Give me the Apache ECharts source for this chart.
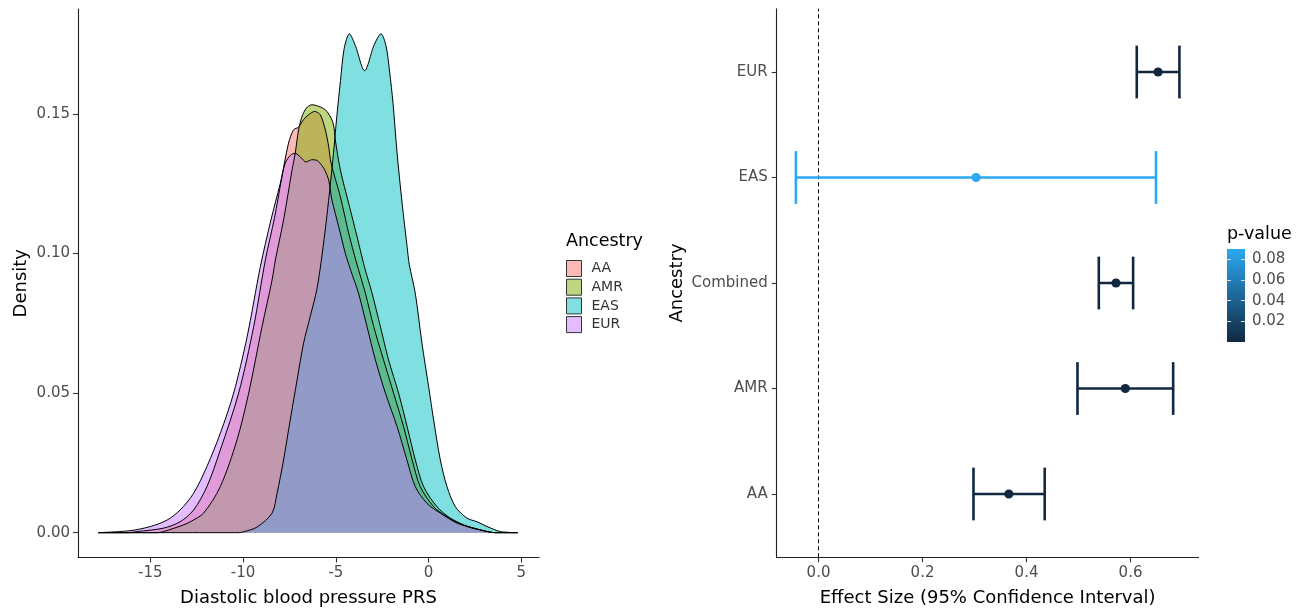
<!DOCTYPE html>
<html><head><meta charset="utf-8">
<script src="https://cdn.jsdelivr.net/npm/echarts@6/dist/echarts.min.js"></script>
<style>html,body{margin:0;padding:0;background:#fff}#c{width:1303px;height:614px}</style>
</head><body><div id="c"></div>
<script>
// ---------- Left panel: density of Diastolic blood pressure PRS ----------
const groups = ['AA', 'AMR', 'EAS', 'EUR'];
const fills = ['#F8766D', '#7CAE00', '#00BFC4', '#C77CFF'];

const densAA = [[-17.8,0],[-16.2,0],[-15.7,0.0004],[-14.3,0.0016],[-13.4,0.0039],[-12.67,0.0081],[-11.95,0.0165],[-11.23,0.0296],[-10.24,0.05],[-9.43,0.0738],[-8.8,0.0977],[-8.3,0.113],[-7.95,0.126],[-7.55,0.1396],[-7.28,0.1443],[-7.01,0.1453],[-6.74,0.148],[-6.47,0.1497],[-6.15,0.1509],[-5.84,0.1497],[-5.57,0.1443],[-5.39,0.1384],[-5.26,0.1324],[-4.76,0.1204],[-4.31,0.1073],[-3.9,0.097],[-3.41,0.0858],[-2.96,0.0738],[-2.43,0.0619],[-1.89,0.05],[-1.35,0.038],[-0.89,0.0261],[-0.45,0.0165],[0.27,0.0093],[0.99,0.0057],[1.89,0.0028],[2.79,0.001],[3.5,0],[4.8,0]];

const densAMR = [[-17.8,0],[-14.6,0],[-14.28,0.0004],[-13.2,0.0028],[-12.85,0.0039],[-12.13,0.007],[-11.23,0.0165],[-10.33,0.0332],[-9.7,0.05],[-8.98,0.0738],[-8.44,0.0905],[-8.26,0.0977],[-7.82,0.112],[-7.36,0.13],[-7.19,0.136],[-7.01,0.1443],[-6.83,0.149],[-6.59,0.1521],[-6.29,0.1533],[-5.84,0.1525],[-5.48,0.1509],[-5.15,0.1467],[-5.03,0.1407],[-4.76,0.13],[-4.31,0.118],[-3.86,0.1061],[-3.45,0.095],[-3.05,0.0858],[-2.6,0.0738],[-2.16,0.0619],[-1.62,0.05],[-1.16,0.038],[-0.72,0.0261],[-0.27,0.0165],[0.45,0.0093],[1.17,0.0052],[2.07,0.0022],[2.97,0.0007],[3.6,0],[4.8,0]];

const densEAS = [[-17.8,0],[-10.2,0],[-9.97,0.0003],[-9.25,0.002],[-8.44,0.007],[-8.17,0.0141],[-7.82,0.026],[-7.46,0.0404],[-7.09,0.0547],[-6.74,0.0679],[-6.38,0.0775],[-6.0,0.088],[-5.6,0.107],[-5.2,0.131],[-4.95,0.149],[-4.75,0.162],[-4.55,0.1735],[-4.27,0.1787],[-3.95,0.1745],[-3.45,0.1655],[-2.95,0.1745],[-2.57,0.1787],[-2.3,0.1745],[-2.1,0.165],[-1.92,0.1539],[-1.7,0.136],[-1.43,0.1181],[-1.16,0.1025],[-1.04,0.096],[-0.72,0.0858],[-0.36,0.0679],[0,0.0523],[0.27,0.0404],[0.63,0.0261],[0.99,0.0165],[1.44,0.0093],[2.07,0.0052],[2.61,0.0039],[3.15,0.0022],[3.87,0.0004],[4.8,0]];

const densEUR = [[-17.8,0],[-16.1,0.0007],[-15,0.0022],[-14.1,0.0045],[-13.4,0.0081],[-12.67,0.0141],[-11.95,0.0237],[-11.23,0.0356],[-10.51,0.05],[-9.79,0.07],[-9.07,0.0953],[-8.5,0.112],[-8.0,0.125],[-7.73,0.1324],[-7.45,0.1352],[-7.19,0.1359],[-6.9,0.1345],[-6.6,0.1328],[-6.3,0.1336],[-6.0,0.1333],[-5.75,0.1315],[-5.57,0.1295],[-5.39,0.1264],[-5.21,0.1192],[-4.85,0.1097],[-4.49,0.1001],[-4.2,0.094],[-3.78,0.0858],[-3.32,0.0738],[-2.87,0.0619],[-2.33,0.05],[-1.7,0.038],[-1.17,0.0261],[-0.72,0.0165],[-0.09,0.0105],[0.63,0.007],[1.53,0.0034],[2.43,0.0016],[3.15,0.0004],[3.6,0],[4.8,0]];

const prsTicks = [-15, -10, -5, 0, 5];
const densityTicks = [0, 0.05, 0.10, 0.15];

// ---------- Right panel: effect sizes ----------
const forestCats = ['AA', 'AMR', 'Combined', 'EAS', 'EUR'];
const estimate = [0.366, 0.590, 0.572, 0.303, 0.653];
const lower    = [0.298, 0.498, 0.539, -0.0435, 0.612];
const upper    = [0.435, 0.682, 0.605, 0.649, 0.694];
const pValue   = [0.0004, 0.0003, 0.00001, 0.09, 0.00001];
const zeroRef = 0;
const effectTicks = [0, 0.2, 0.4, 0.6];
const pTicks = [0.02, 0.04, 0.06, 0.08];

const FONT = 'DejaVu Sans';
const LOW = '#10283F', HIGH = '#2BA9F2';
function hexA(h, a) {
  const n = parseInt(h.slice(1), 16);
  return 'rgba(' + (n >> 16 & 255) + ',' + (n >> 8 & 255) + ',' + (n & 255) + ',' + a + ')';
}
const axisLineStyle = { onZero: false, lineStyle: { color: '#222', width: 1.1 } };
const tickStyle = { length: 5, lineStyle: { color: '#333', width: 1.1 } };
const lblStyle = { color: '#4D4D4D', fontSize: 15, fontFamily: FONT };
const nameStyle = { color: '#000', fontSize: 18, fontFamily: FONT };

const densData = [densAA, densAMR, densEAS, densEUR];
const densSeries = groups.map((g, i) => ({
  type: 'line', name: g, xAxisIndex: 0, yAxisIndex: 0, data: densData[i],
  showSymbol: false, symbol: 'none', smooth: 0.3,
  lineStyle: { color: '#000', width: 1 },
  itemStyle: { color: fills[i] },
  areaStyle: { color: fills[i], opacity: 0.5 },
  silent: true, animation: false
}));

const forestData = forestCats.map((c, i) => [i, lower[i], upper[i], estimate[i], pValue[i]]);

const chart = echarts.init(document.getElementById('c'));
chart.setOption({
  animation: false,
  backgroundColor: '#fff',
  textStyle: { fontFamily: FONT },
  title: [
    { text: 'Ancestry', left: 566, top: 232, padding: 0, textStyle: { fontSize: 17.5, fontWeight: 'normal', color: '#000', fontFamily: FONT } },
    { text: 'p-value', left: 1227, top: 225, padding: 0, textStyle: { fontSize: 17.5, fontWeight: 'normal', color: '#000', fontFamily: FONT } }
  ],
  legend: {
    orient: 'vertical', left: 566, top: 260, padding: 0,
    itemWidth: 15, itemHeight: 16, itemGap: 1.7, icon: 'rect', selectedMode: false,
    textStyle: { fontSize: 14, color: '#333', fontFamily: FONT, padding: [0, 0, 0, 5] },
    data: groups.map((g, i) => ({ name: g, itemStyle: { color: hexA(fills[i], 0.5), borderColor: '#333', borderWidth: 1 } }))
  },
  grid: [
    { left: 78, top: 9, width: 461, height: 548.5 },
    { left: 776.7, top: 8.7, width: 421.9, height: 548.6 },
    { left: 1227, top: 249, width: 18, height: 93 }
  ],
  xAxis: [
    { type: 'value', gridIndex: 0, min: -18.9, max: 5.95,
      name: 'Diastolic blood pressure PRS', nameLocation: 'middle', nameGap: 32, nameTextStyle: nameStyle,
      axisLine: axisLineStyle, axisTick: Object.assign({ customValues: prsTicks }, tickStyle),
      axisLabel: Object.assign({ customValues: prsTicks, margin: 8 }, lblStyle), splitLine: { show: false } },
    { type: 'value', gridIndex: 1, min: -0.0804, max: 0.7309,
      name: 'Effect Size (95% Confidence Interval)', nameLocation: 'middle', nameGap: 32, nameTextStyle: nameStyle,
      axisLine: axisLineStyle, axisTick: Object.assign({ customValues: effectTicks }, tickStyle),
      axisLabel: Object.assign({ customValues: effectTicks, margin: 8, formatter: v => v.toFixed(1) }, lblStyle), splitLine: { show: false } },
    { type: 'category', gridIndex: 2, data: ['p'], show: false }
  ],
  yAxis: [
    { type: 'value', gridIndex: 0, min: -0.0089, max: 0.1876,
      name: 'Density', nameLocation: 'middle', nameGap: 48, nameTextStyle: nameStyle,
      axisLine: axisLineStyle, axisTick: Object.assign({ customValues: densityTicks }, tickStyle),
      axisLabel: Object.assign({ customValues: densityTicks, margin: 8, formatter: v => v.toFixed(2) }, lblStyle), splitLine: { show: false } },
    { type: 'value', gridIndex: 1, min: -0.6, max: 4.6,
      name: 'Ancestry', nameLocation: 'middle', nameGap: 90, nameTextStyle: nameStyle,
      axisLine: axisLineStyle, axisTick: Object.assign({ customValues: [0, 1, 2, 3, 4] }, tickStyle),
      axisLabel: Object.assign({ customValues: [0, 1, 2, 3, 4], margin: 9, formatter: v => forestCats[Math.round(v)] }, lblStyle), splitLine: { show: false } },
    { type: 'value', gridIndex: 2, min: 0, max: Math.max(...pValue), position: 'right', z: 10,
      axisLine: { show: false }, splitLine: { show: false },
      axisTick: { show: true, inside: true, length: 4, customValues: pTicks, lineStyle: { color: '#ddd', width: 1 } },
      axisLabel: Object.assign({ customValues: pTicks, margin: 7, formatter: v => v.toFixed(2) }, lblStyle) },
    { type: 'value', gridIndex: 2, min: 0, max: Math.max(...pValue), position: 'left', z: 10,
      axisLine: { show: false }, splitLine: { show: false }, axisLabel: { show: false },
      axisTick: { show: true, inside: true, length: 4, customValues: pTicks, lineStyle: { color: '#ddd', width: 1 } } }
  ],
  visualMap: {
    type: 'continuous', show: false, seriesIndex: 4, dimension: 4,
    min: 0, max: Math.max(...pValue), inRange: { color: [LOW, HIGH] }
  },
  series: densSeries.concat([
    {
      type: 'custom', name: 'forest', xAxisIndex: 1, yAxisIndex: 1, data: forestData,
      encode: { x: [1, 2, 3], y: 0 }, silent: true, z: 5,
      renderItem: function (params, api) {
        const y = api.value(0);
        const pL = api.coord([api.value(1), y]);
        const pH = api.coord([api.value(2), y]);
        const pE = api.coord([api.value(3), y]);
        const capH = api.size([0, 0.5])[1] / 2;
        const color = api.visual('color');
        const st = { stroke: color, lineWidth: 2.6 };
        return { type: 'group', children: [
          { type: 'line', shape: { x1: pL[0], y1: pL[1], x2: pH[0], y2: pH[1] }, style: st },
          { type: 'line', shape: { x1: pL[0], y1: pL[1] - capH, x2: pL[0], y2: pL[1] + capH }, style: st },
          { type: 'line', shape: { x1: pH[0], y1: pH[1] - capH, x2: pH[0], y2: pH[1] + capH }, style: st },
          { type: 'circle', shape: { cx: pE[0], cy: pE[1], r: 4.6 }, style: { fill: color } }
        ] };
      }
    },
    {
      type: 'bar', xAxisIndex: 2, yAxisIndex: 2, data: [Math.max(...pValue)], barWidth: '100%', silent: true, z: 1,
      itemStyle: { color: new echarts.graphic.LinearGradient(0, 1, 0, 0, [{ offset: 0, color: LOW }, { offset: 1, color: HIGH }]) }
    },
    {
      type: 'line', name: 'zero', xAxisIndex: 1, yAxisIndex: 1, data: [], silent: true, z: 2,
      markLine: {
        silent: true, symbol: 'none', label: { show: false }, animation: false,
        lineStyle: { color: '#000', type: [4, 3], width: 1 },
        data: [{ xAxis: zeroRef }]
      }
    }
  ])
});
</script>
</body></html>
